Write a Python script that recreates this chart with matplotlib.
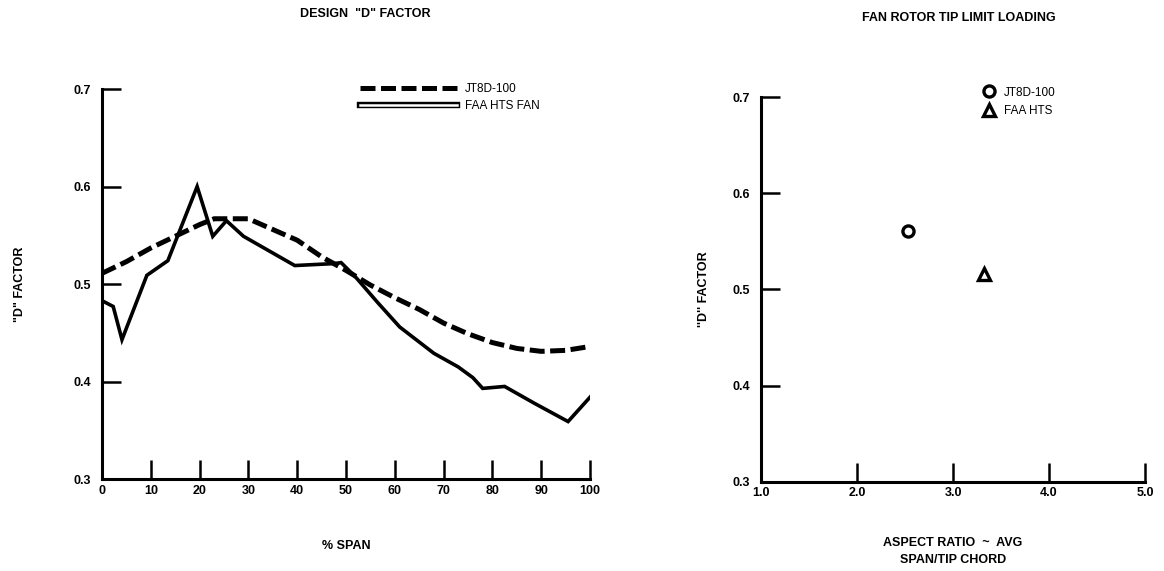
import matplotlib
matplotlib.use("Agg")
import matplotlib.pyplot as plt
import matplotlib.patheffects as pe
from matplotlib.lines import Line2D

plt.rcParams["font.family"] = ["Liberation Sans", "DejaVu Sans"]
plt.rcParams["font.weight"] = "bold"

# 左圖：設計 D 因子沿展向分佈
span_jt8d = [0, 5, 10, 15, 20, 23, 30, 35, 40, 45, 50, 55, 60, 65, 70, 75, 80, 85, 90, 95, 100]
d_jt8d = [0.511, 0.523, 0.537, 0.549, 0.561, 0.567, 0.567, 0.556, 0.545, 0.528, 0.514,
          0.499, 0.486, 0.474, 0.460, 0.449, 0.440, 0.434, 0.431, 0.432, 0.436]

span_hts = [0, 2.3, 4.1, 9.2, 13.5, 19.5, 22.7, 25.5, 29, 39.5, 47.5, 49, 52, 56.5, 61,
            68, 73, 76, 78, 82.5, 88.5, 95.5, 100]
d_hts = [0.483, 0.477, 0.443, 0.509, 0.524, 0.600, 0.549, 0.565, 0.549, 0.519, 0.521,
         0.522, 0.507, 0.481, 0.456, 0.429, 0.415, 0.404, 0.393, 0.395, 0.378, 0.359, 0.384]

# 右圖：葉尖負荷
aspect_ratio = [2.53, 3.32]
tip_d = [0.561, 0.516]
tip_labels = ["JT8D-100", "FAA HTS"]
tip_markers = ["o", "^"]

span_ticks = [0, 10, 20, 30, 40, 50, 60, 70, 80, 90, 100]
ar_ticks = [1.0, 2.0, 3.0, 4.0, 5.0]
d_ticks = [0.3, 0.4, 0.5, 0.6, 0.7]

fig = plt.figure(figsize=(11.64, 5.71), dpi=100)
ax1 = fig.add_axes([0.0876, 0.161, 0.4193, 0.683])
ax2 = fig.add_axes([0.6538, 0.156, 0.3299, 0.674])

hollow = [pe.Stroke(linewidth=4.6, foreground="black"), pe.Normal()]

ax1.plot(span_jt8d, d_jt8d, color="black", lw=3.6, ls=(0, (3.0, 1.1)),
         solid_capstyle="butt", dash_capstyle="butt")
ax1.plot(span_hts, d_hts, color="black", lw=2.6, solid_joinstyle="miter")
leg_hts = Line2D([], [], color="white", lw=1.8, path_effects=hollow)
leg_jt = Line2D([], [], color="black", lw=3.6, ls=(0, (3.0, 1.1)), dash_capstyle="butt")
ax1.legend([leg_jt, leg_hts], ["JT8D-100", "FAA HTS FAN"], loc="upper left",
           bbox_to_anchor=(0.507, 1.043), frameon=False, handlelength=8.2,
           handletextpad=0.7, labelspacing=0.45, prop={"size": 8.5, "weight": "normal"})

ax1.set_xlim(0, 100)
ax1.set_ylim(0.3, 0.7)
ax1.set_xticks(span_ticks)
ax1.set_xticklabels([str(t) for t in span_ticks])
ax1.set_yticks(d_ticks)
ax1.set_yticklabels([f"{t:.1f}" for t in d_ticks])
ax1.set_xlabel("% SPAN", fontsize=9, fontweight="bold", labelpad=31)
ax1.set_ylabel('"D" FACTOR', fontsize=9, fontweight="bold", labelpad=34)
fig.text(0.314, 0.975, 'DESIGN  "D" FACTOR', ha="center", va="center",
         fontsize=9, fontweight="bold")

for (x, y, lab, m) in zip(aspect_ratio, tip_d, tip_labels, tip_markers):
    ax2.plot([x], [y], ls="none", marker=m, ms=8, mfc="white", mec="black", mew=2.4, label=lab)
ax2.legend(loc="upper left", bbox_to_anchor=(0.55, 1.055), frameon=False,
           handlelength=1.0, handletextpad=0.8, labelspacing=0.55,
           prop={"size": 8.5, "weight": "normal"})

ax2.set_xlim(1.0, 5.0)
ax2.set_ylim(0.3, 0.7)
ax2.set_xticks(ar_ticks)
ax2.set_xticklabels([f"{t:.1f}" for t in ar_ticks])
ax2.set_yticks(d_ticks)
ax2.set_yticklabels([f"{t:.1f}" for t in d_ticks])
ax2.set_xlabel("ASPECT RATIO  ~  AVG\nSPAN/TIP CHORD", fontsize=9, fontweight="bold",
               labelpad=27, linespacing=1.55)
ax2.set_ylabel("''D'' FACTOR", fontsize=9, fontweight="bold", labelpad=16)
fig.text(0.824, 0.969, "FAN ROTOR TIP LIMIT LOADING", ha="center", va="center",
         fontsize=9, fontweight="bold")

for ax in (ax1, ax2):
    for s in ("top", "right"):
        ax.spines[s].set_visible(False)
    for s in ("left", "bottom"):
        ax.spines[s].set_linewidth(2.2)
    ax.tick_params(direction="in", length=14, width=1.8, labelsize=9, pad=4)
    ax.tick_params(axis="y", pad=8)

fig.savefig("out.png", dpi=100, facecolor="white")
